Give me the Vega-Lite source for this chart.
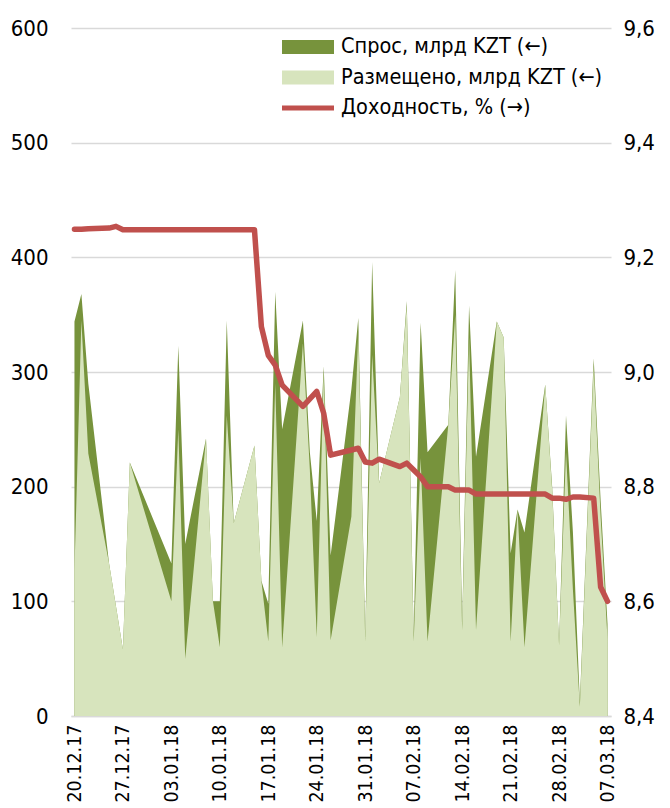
{
  "$schema": "https://vega.github.io/schema/vega-lite/v6.json",
  "width": 540,
  "height": 688,
  "autosize": {"type": "none"},
  "padding": {"left": 71, "top": 28, "right": 59, "bottom": 92},
  "background": "white",
  "config": {
    "view": {"stroke": null},
    "font": "'Liberation Sans Narrow', 'Arial Narrow', 'DejaVu Sans Condensed', 'Liberation Sans', sans-serif",
    "axis": {"labelFont": "'Liberation Sans Narrow', 'Arial Narrow', 'DejaVu Sans Condensed', 'Liberation Sans', sans-serif", "labelColor": "#000000", "labelFontSize": 22}
  },
  "datasets": {
    "vol": [
      {"d": "2017-12-20", "s": 344, "p": 127},
      {"d": "2017-12-21", "s": 368, "p": 345},
      {"d": "2017-12-22", "s": 290, "p": 229},
      {"d": "2017-12-25", "s": 133, "p": 133},
      {"d": "2017-12-27", "s": 58, "p": 58},
      {"d": "2017-12-28", "s": 221, "p": 221},
      {"d": "2018-01-03", "s": 133, "p": 100},
      {"d": "2018-01-04", "s": 323, "p": 250},
      {"d": "2018-01-05", "s": 150, "p": 50},
      {"d": "2018-01-08", "s": 242, "p": 242},
      {"d": "2018-01-09", "s": 100, "p": 100},
      {"d": "2018-01-10", "s": 100, "p": 60},
      {"d": "2018-01-11", "s": 345, "p": 262},
      {"d": "2018-01-12", "s": 168, "p": 168},
      {"d": "2018-01-15", "s": 236, "p": 236},
      {"d": "2018-01-16", "s": 118, "p": 118},
      {"d": "2018-01-17", "s": 98, "p": 65},
      {"d": "2018-01-18", "s": 370, "p": 290},
      {"d": "2018-01-19", "s": 250, "p": 60},
      {"d": "2018-01-22", "s": 345, "p": 325},
      {"d": "2018-01-23", "s": 230, "p": 215},
      {"d": "2018-01-24", "s": 170, "p": 69},
      {"d": "2018-01-25", "s": 305, "p": 300},
      {"d": "2018-01-26", "s": 140, "p": 66},
      {"d": "2018-01-29", "s": 285, "p": 174},
      {"d": "2018-01-30", "s": 347, "p": 335},
      {"d": "2018-01-31", "s": 68, "p": 65},
      {"d": "2018-02-01", "s": 396, "p": 315},
      {"d": "2018-02-02", "s": 203, "p": 203},
      {"d": "2018-02-05", "s": 278, "p": 278},
      {"d": "2018-02-06", "s": 362, "p": 358},
      {"d": "2018-02-07", "s": 70, "p": 65},
      {"d": "2018-02-08", "s": 343, "p": 225},
      {"d": "2018-02-09", "s": 230, "p": 65},
      {"d": "2018-02-12", "s": 254, "p": 254},
      {"d": "2018-02-13", "s": 389, "p": 350},
      {"d": "2018-02-14", "s": 80, "p": 75},
      {"d": "2018-02-15", "s": 358, "p": 330},
      {"d": "2018-02-16", "s": 226, "p": 75},
      {"d": "2018-02-19", "s": 344, "p": 344},
      {"d": "2018-02-20", "s": 330, "p": 330},
      {"d": "2018-02-21", "s": 142, "p": 65},
      {"d": "2018-02-22", "s": 180, "p": 180},
      {"d": "2018-02-23", "s": 160, "p": 60},
      {"d": "2018-02-26", "s": 289, "p": 289},
      {"d": "2018-02-27", "s": 200, "p": 197},
      {"d": "2018-02-28", "s": 62, "p": 62},
      {"d": "2018-03-01", "s": 262, "p": 230},
      {"d": "2018-03-02", "s": 160, "p": 110},
      {"d": "2018-03-03", "s": 12, "p": 8},
      {"d": "2018-03-05", "s": 312, "p": 305},
      {"d": "2018-03-06", "s": 188, "p": 174},
      {"d": "2018-03-07", "s": 80, "p": 67}
    ],
    "yld": [
      {"d": "2017-12-20", "y": 9.249},
      {"d": "2017-12-21", "y": 9.249},
      {"d": "2017-12-22", "y": 9.25},
      {"d": "2017-12-25", "y": 9.251},
      {"d": "2017-12-26", "y": 9.254},
      {"d": "2017-12-27", "y": 9.248},
      {"d": "2017-12-28", "y": 9.248},
      {"d": "2018-01-03", "y": 9.248},
      {"d": "2018-01-04", "y": 9.248},
      {"d": "2018-01-05", "y": 9.248},
      {"d": "2018-01-08", "y": 9.248},
      {"d": "2018-01-09", "y": 9.248},
      {"d": "2018-01-10", "y": 9.248},
      {"d": "2018-01-11", "y": 9.248},
      {"d": "2018-01-12", "y": 9.248},
      {"d": "2018-01-15", "y": 9.248},
      {"d": "2018-01-16", "y": 9.079},
      {"d": "2018-01-17", "y": 9.029},
      {"d": "2018-01-18", "y": 9.012},
      {"d": "2018-01-19", "y": 8.977},
      {"d": "2018-01-22", "y": 8.94},
      {"d": "2018-01-23", "y": 8.953},
      {"d": "2018-01-24", "y": 8.966},
      {"d": "2018-01-25", "y": 8.928},
      {"d": "2018-01-26", "y": 8.855},
      {"d": "2018-01-29", "y": 8.864},
      {"d": "2018-01-30", "y": 8.867},
      {"d": "2018-01-31", "y": 8.843},
      {"d": "2018-02-01", "y": 8.841},
      {"d": "2018-02-02", "y": 8.848},
      {"d": "2018-02-05", "y": 8.835},
      {"d": "2018-02-06", "y": 8.841},
      {"d": "2018-02-07", "y": 8.829},
      {"d": "2018-02-08", "y": 8.817},
      {"d": "2018-02-09", "y": 8.8},
      {"d": "2018-02-12", "y": 8.8},
      {"d": "2018-02-13", "y": 8.794},
      {"d": "2018-02-14", "y": 8.794},
      {"d": "2018-02-15", "y": 8.794},
      {"d": "2018-02-16", "y": 8.787},
      {"d": "2018-02-19", "y": 8.787},
      {"d": "2018-02-20", "y": 8.787},
      {"d": "2018-02-21", "y": 8.787},
      {"d": "2018-02-22", "y": 8.787},
      {"d": "2018-02-23", "y": 8.787},
      {"d": "2018-02-26", "y": 8.787},
      {"d": "2018-02-27", "y": 8.78},
      {"d": "2018-02-28", "y": 8.78},
      {"d": "2018-03-01", "y": 8.778},
      {"d": "2018-03-02", "y": 8.782},
      {"d": "2018-03-03", "y": 8.782},
      {"d": "2018-03-05", "y": 8.78},
      {"d": "2018-03-06", "y": 8.625},
      {"d": "2018-03-07", "y": 8.6}
    ]
  },
  "layer": [
    {
      "data": {"name": "vol"},
      "layer": [
        {
          "mark": {"type": "area", "interpolate": "linear"},
          "encoding": {
            "x": {
              "field": "d", "type": "temporal",
              "scale": {"type": "utc", "domain": [{"year": 2017, "month": 12, "date": 19, "hours": 12, "utc": true}, {"year": 2018, "month": 3, "date": 7, "hours": 12, "utc": true}]},
              "axis": {
                "title": null,
                "values": [
                  {"year": 2017, "month": 12, "date": 20, "utc": true},
                  {"year": 2017, "month": 12, "date": 27, "utc": true},
                  {"year": 2018, "month": 1, "date": 3, "utc": true},
                  {"year": 2018, "month": 1, "date": 10, "utc": true},
                  {"year": 2018, "month": 1, "date": 17, "utc": true},
                  {"year": 2018, "month": 1, "date": 24, "utc": true},
                  {"year": 2018, "month": 1, "date": 31, "utc": true},
                  {"year": 2018, "month": 2, "date": 7, "utc": true},
                  {"year": 2018, "month": 2, "date": 14, "utc": true},
                  {"year": 2018, "month": 2, "date": 21, "utc": true},
                  {"year": 2018, "month": 2, "date": 28, "utc": true},
                  {"year": 2018, "month": 3, "date": 7, "utc": true}
                ],
                "labelExpr": "utcFormat(datum.value, '%d.%m.%y')",
                "labelAngle": 270, "labelPadding": 8, "labelFontSize": 19.5, "ticks": false,
                "domain": true, "domainColor": "#D9D9D9", "domainWidth": 1.5,
                "grid": false, "labelOverlap": false, "labelBound": false, "labelFlush": false
              }
            },
            "y": {
              "field": "s", "type": "quantitative", "stack": null,
              "scale": {"domain": [0, 600]},
              "axis": {
                "title": null, "orient": "left", "values": [0, 100, 200, 300, 400, 500, 600],
                "grid": true, "gridColor": "#D9D9D9", "gridWidth": 1.5,
                "domain": false, "ticks": false, "labelPadding": 23
              }
            },
            "color": {
              "datum": "Спрос, млрд KZT (←)", "type": "nominal",
              "scale": {
                "domain": ["Спрос, млрд KZT (←)", "Размещено, млрд KZT (←)", "Доходность, % (→)"],
                "range": ["#77933C", "#D7E4BD", "#C0504D"]
              },
              "legend": {
                "orient": "none", "legendX": 211, "legendY": 6, "title": null, "padding": 0,
                "labelFont": "'Liberation Sans Narrow', 'Arial Narrow', 'DejaVu Sans Condensed', 'Liberation Sans', sans-serif",
                "labelFontSize": 21.5, "labelColor": "#000000",
                "labelLimit": 500, "labelOffset": 33, "rowPadding": 6.5,
                "symbolSize": 676, "symbolType": "M-1,-0.54H3V0.54H-1Z", "symbolStrokeWidth": 0,
                "encode": {
                  "symbols": {
                    "update": {
                      "shape": {"signal": "datum.value === 'Доходность, % (→)' ? 'M-1,-0.2H3V0.2H-1Z' : 'M-1,-0.54H3V0.54H-1Z'"},
                      "fill": {"scale": "color", "field": "value"},
                      "stroke": {"value": "transparent"},
                      "opacity": {"value": 1}
                    }
                  }
                }
              }
            }
          }
        },
        {
          "mark": {"type": "area", "interpolate": "linear"},
          "encoding": {
            "x": {"field": "d", "type": "temporal"},
            "y": {"field": "p", "type": "quantitative", "stack": null, "axis": {"title": null}},
            "color": {"datum": "Размещено, млрд KZT (←)", "type": "nominal"}
          }
        }
      ]
    },
    {
      "data": {"name": "yld"},
      "mark": {"type": "line", "strokeWidth": 5.5, "strokeCap": "round", "strokeJoin": "round"},
      "encoding": {
        "x": {"field": "d", "type": "temporal"},
        "y": {
          "field": "y", "type": "quantitative",
          "scale": {"domain": [8.4, 9.6], "zero": false},
          "axis": {
            "title": null, "orient": "right", "values": [8.4, 8.6, 8.8, 9.0, 9.2, 9.4, 9.6],
            "labelExpr": "replace(format(datum.value, '.1f'), '.', ',')",
            "grid": false, "domain": false, "ticks": false, "labelPadding": 12
          }
        },
        "color": {"datum": "Доходность, % (→)", "type": "nominal"}
      }
    }
  ],
  "resolve": {"scale": {"y": "independent"}}
}
